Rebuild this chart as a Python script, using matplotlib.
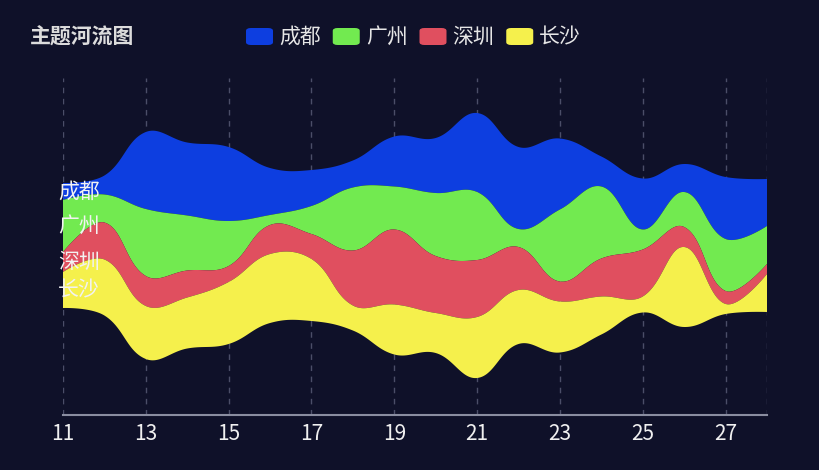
import numpy as np
import matplotlib
matplotlib.use("Agg")
import matplotlib.pyplot as plt
from matplotlib.patches import FancyBboxPatch

plt.rcParams['font.family'] = ['Noto Sans CJK SC', 'DejaVu Sans']

# data
days = list(range(11, 29))
cities = ["成都", "广州", "深圳", "长沙"]
colors = ["#0d3ee0", "#72ea50", "#e04f5f", "#f5f04c"]
chengdu = [17, 19, 77, 73, 74, 47, 36, 27, 50, 55, 79, 82, 71, 30, 51, 28, 62, 47]
guangzhou = [52, 28, 67, 55, 45, 10, 28, 63, 43, 63, 68, 18, 72, 72, 20, 35, 52, 38]
shenzhen = [20, 37, 30, 27, 16, 29, 25, 55, 75, 57, 57, 43, 20, 38, 47, 20, 13, 10]
changsha = [36, 56, 53, 51, 62, 69, 62, 25, 50, 40, 61, 54, 51, 38, 16, 80, 10, 38]
tick_days = list(range(11, 28, 2))

bg = "#0f1129"
series = [chengdu, guangzhou, shenzhen, changsha]


def smooth_curve(xs, ys, kx, ky, smooth=0.4, n=30):
    # echarts style bezier smoothing, done in pixel-like units
    p = np.column_stack([np.asarray(xs, float) * kx, np.asarray(ys, float) * ky])
    cps = [p[0]]
    for i in range(1, len(p) - 1):
        v = (p[i + 1] - p[i - 1]) * smooth
        d0 = np.linalg.norm(p[i] - p[i - 1])
        d1 = np.linalg.norm(p[i] - p[i + 1])
        s = d0 + d1
        if s:
            d0, d1 = d0 / s, d1 / s
        cps.append(p[i] - v * d0)
        cps.append(p[i] + v * d1)
    cps.append(p[-1])
    t = np.linspace(0, 1, n)[:, None]
    out = []
    for i in range(len(p) - 1):
        a, b, c, d = p[i], cps[2 * i], cps[2 * i + 1], p[i + 1]
        seg = (1 - t) ** 3 * a + 3 * (1 - t) ** 2 * t * b + 3 * (1 - t) * t ** 2 * c + t ** 3 * d
        out.append(seg if i == 0 else seg[1:])
    out = np.vstack(out)
    return out[:, 0] / kx, out[:, 1] / ky


fig = plt.figure(figsize=(8.2, 4.7), dpi=100, facecolor=bg)
ax = fig.add_axes([63 / 820, 55 / 470, 704 / 820, 337 / 470])
ax.set_facecolor(bg)

vals = np.array(series, dtype=float)
sums = vals.sum(axis=0)
vmax = sums.max()
base = (vmax - sums) / 2

kx = 704 / (days[-1] - days[0])
ky = 337 / (vmax + 72)

# stack from the bottom: last city first
lower = base.copy()
bounds = {}
for idx in range(len(cities) - 1, -1, -1):
    upper = lower + vals[idx]
    bounds[idx] = (lower.copy(), upper.copy())
    lower = upper

for idx in range(len(cities)):
    lo, up = bounds[idx]
    tx, ty = smooth_curve(days, up, kx, ky)
    bx, by = smooth_curve(days, lo, kx, ky)
    ax.fill(np.concatenate([tx, bx[::-1]]), np.concatenate([ty, by[::-1]]),
            color=colors[idx], lw=0, zorder=2)
    ax.text(days[0] - 0.12, (lo[0] + up[0]) / 2, cities[idx], color="#f2f2f2",
            fontsize=15, ha="left", va="center", zorder=4)

for d in tick_days + [days[-1]]:
    ax.axvline(d, color="#4b4e68", lw=1, ls=(0, (4, 4)), zorder=1)

ax.set_xlim(days[0], days[-1])
ax.set_ylim(-37, vmax + 35)
ax.set_xticks(tick_days)
ax.set_xticklabels([str(d) for d in tick_days])
ax.tick_params(axis="x", colors="#f0f0f0", labelsize=15, length=0, pad=6)
ax.set_yticks([])
for s in ["top", "left", "right"]:
    ax.spines[s].set_visible(False)
ax.spines["bottom"].set_color("#8a8da0")
ax.spines["bottom"].set_linewidth(1.5)

# title
fig.text(30 / 820, 1 - 37 / 470, "主题河流图", color="#dcdcdc", fontsize=15,
         fontweight="bold", ha="left", va="center")

# legend
renderer = fig.canvas.get_renderer()
x = 246
for name, c in zip(cities, colors):
    box = FancyBboxPatch((x / 820, 1 - 45 / 470), 27 / 820, 17 / 470,
                         boxstyle="round,pad=0,rounding_size=0.006",
                         transform=fig.transFigure, facecolor=c, edgecolor="none")
    fig.patches.append(box)
    t = fig.text((x + 33) / 820, 1 - 37 / 470, name, color="#e6e6e6", fontsize=15,
                 ha="left", va="center")
    w = t.get_window_extent(renderer).width
    x = x + 33 + w + 12

fig.savefig("out.png", dpi=100, facecolor=bg)
